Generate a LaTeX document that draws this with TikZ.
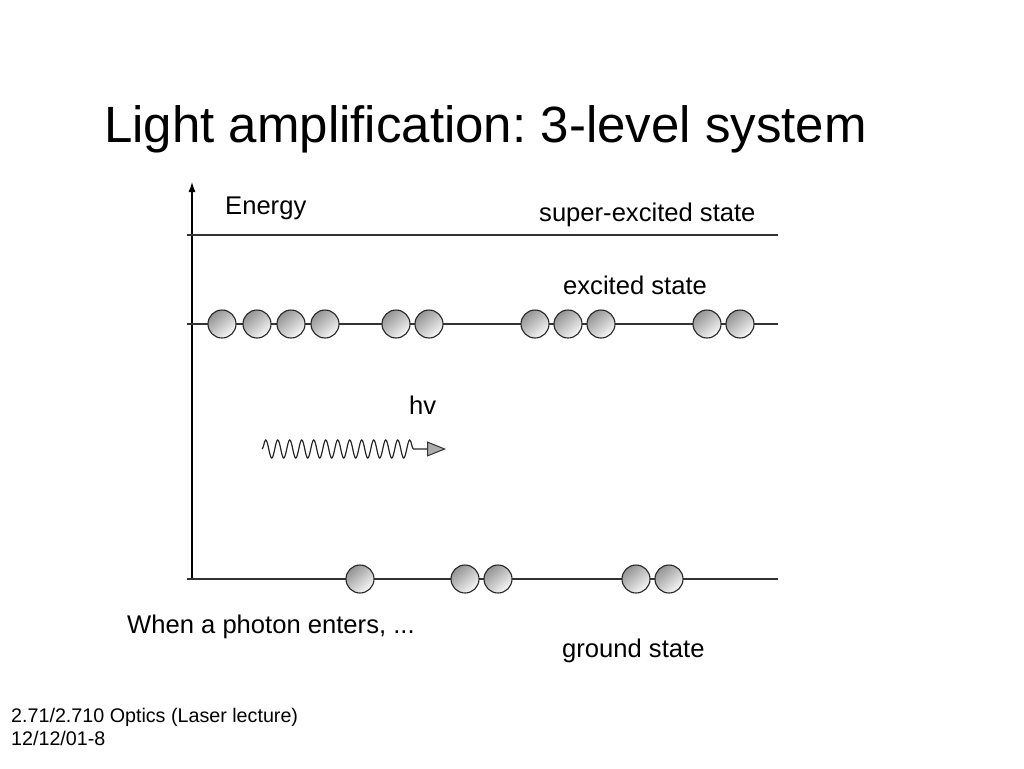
\documentclass[tikz,border=0pt]{standalone}
\usepackage{fontspec}
\setmainfont{Liberation Sans}
\frenchspacing
\usetikzlibrary{arrows.meta,positioning,decorations.pathmorphing}
\tikzset{
level/.style = {draw=black!80, line width=1.3pt},
atom/.style = {draw=black!85, line width=1.1pt, circle, inner sep=0pt, minimum size=28pt, top color=gray!85, bottom color=gray!5, shading angle=40},
label/.style = {anchor=base west, inner sep=0pt, font=\fontsize{25.6}{30}\selectfont},
photon/.style = {draw=black!85, line width=1.2pt, decorate, decoration={snake, segment length=12pt, amplitude=9pt, post length=10pt}},
}

\begin{document}
\begin{tikzpicture}[x=1pt, y=-1pt, >=Latex]
   \useasboundingbox (0,0) rectangle (1024,768);
   % title
   \node [anchor=base west, inner sep=0pt, font=\fontsize{51}{60}\selectfont] (title) at (104,142) {Light amplification: 3-level system};
   % energy axis
   \coordinate (axbot) at (192,579);
   \coordinate (axtop) at (192,182);
   \draw [line width=1.1pt, -{Latex[length=10pt,width=7pt]}] (axbot) -- (axtop);
   \node [label] (energy) at (225,214) {Energy};
   % levels
   \coordinate (sxL) at (187,235);
   \coordinate (sxR) at (778,235);
   \coordinate (exL) at (187,324);
   \coordinate (exR) at (778,324);
   \coordinate (grL) at (187,579);
   \coordinate (grR) at (778,579);
   \draw [level] (sxL) -- (sxR);
   \draw [level] (exL) -- (exR);
   \draw [level] (grL) -- (grR);
   \node [label] (sxlab) at (539,221) {super-excited state};
   \node [label] (exlab) at (563,294) {excited state};
   \node [label] (grlab) at (562,657) {ground state};
   % atoms
   \foreach \x [count=\i] in {222,257,291,325,396,429,535,568,601,707,740}
     \node [atom] (e\i) at (\x,324) {};
   \foreach \x [count=\i] in {360,465,498,636,669}
     \node [atom] (g\i) at (\x,579) {};
   % photon
   \coordinate (phA) at (262,449);
   \coordinate (phB) at (427,449);
   \coordinate (phC) at (446,449);
   \path [photon] (phA) -- (phB);
   \draw [draw=black!80, line width=1pt, -{Triangle[length=19pt,width=15pt,fill=gray!65]}] (phB) -- (phC);
   \node [label] (hv) at (409,414) {hv};
   \node [label] (enters) at (127,633) {When a photon enters, ...};
   % footer
   \node [anchor=base west, inner sep=0pt, font=\fontsize{19.7}{23}\selectfont] (foot1) at (11,722) {2.71/2.710 Optics (Laser lecture)};
   \node [anchor=base west, inner sep=0pt, font=\fontsize{19.7}{23}\selectfont] (foot2) at (11,745) {12/12/01-8};
\end{tikzpicture}
\end{document}
